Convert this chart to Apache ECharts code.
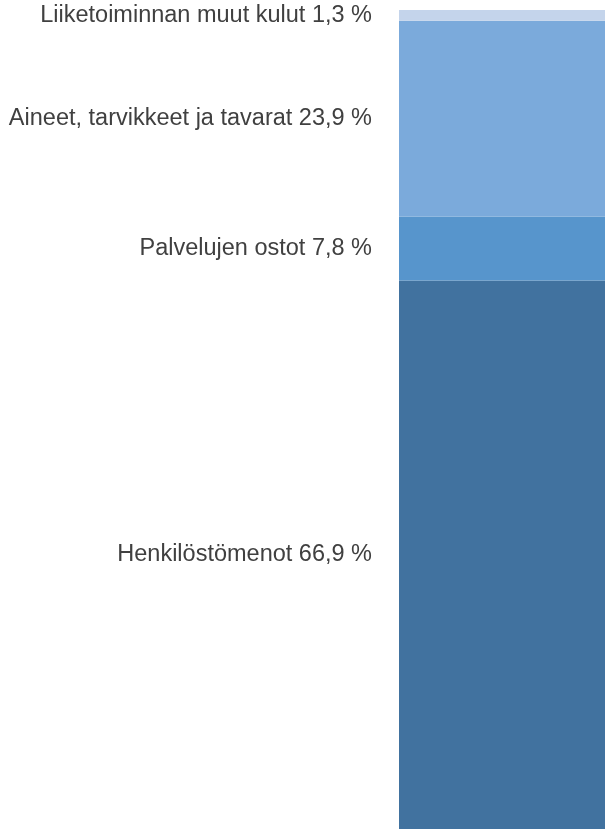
<!DOCTYPE html>
<html>
<head>
<meta charset="utf-8">
<style>
  html, body { margin: 0; padding: 0; background: #ffffff; }
  #chart { width: 605px; height: 830px; }
</style>
<script src="https://cdn.jsdelivr.net/npm/echarts@6/dist/echarts.min.js"></script>
</head>
<body>
<div id="chart"></div>
<script>
// Cost breakdown, stacked from the bottom up
const categories = ['Henkilöstömenot', 'Palvelujen ostot', 'Aineet, tarvikkeet ja tavarat', 'Liiketoiminnan muut kulut'];
const shares = [66.9, 7.8, 23.9, 1.3];
const colors = ['#41729f', '#5795cc', '#7baadb', '#c4d4eb'];

const total = shares.reduce((a, b) => a + b, 0);
const fmt = v => v.toFixed(1).replace('.', ',') + ' %';

const chart = echarts.init(document.getElementById('chart'), null, { renderer: 'canvas' });

chart.setOption({
  animation: false,
  grid: { left: 399, right: 0, top: 10, bottom: 1 },
  xAxis: {
    type: 'category',
    data: ['Kulut'],
    show: false
  },
  yAxis: {
    type: 'value',
    min: 0,
    max: total,
    show: false
  },
  series: categories.map((name, i) => ({
    name: name,
    type: 'bar',
    stack: 'kulut',
    barWidth: '100%',
    data: [shares[i]],
    itemStyle: { color: colors[i] },
    label: {
      show: true,
      position: 'left',
      distance: 27,
      formatter: () => name + ' ' + fmt(shares[i]),
      fontFamily: 'Liberation Sans, Arial, sans-serif',
      fontSize: 23.5,
      color: '#404040'
    }
  }))
});
</script>
</body>
</html>
